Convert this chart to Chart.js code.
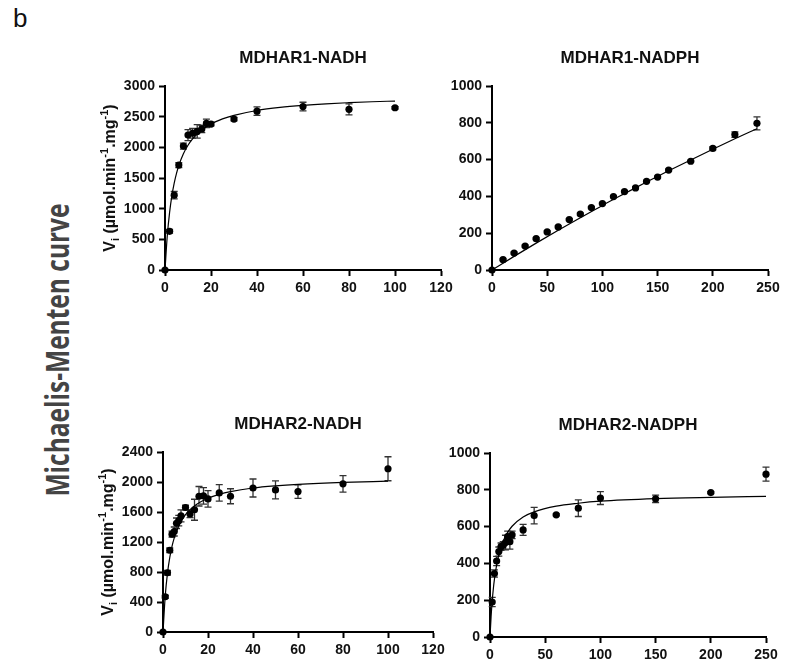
<!DOCTYPE html>
<html>
<head>
<meta charset="utf-8">
<script src="https://cdn.jsdelivr.net/npm/chart.js@4.4.1/dist/chart.umd.min.js"></script>
<style>
  body { margin: 0; background: #fff; }
  #page { position: relative; width: 795px; height: 671px; overflow: hidden; background: #fff; }
  #page canvas { position: absolute; }
  #tag { position: absolute; left: 13px; top: 5px; font: 26px "Liberation Sans", Arial, sans-serif; line-height: 1; color: #111; }
  #side {
    position: absolute; left: -115px; top: 335px; width: 340px; height: 30px;
    line-height: 30px; text-align: center; color: #444;
    font: 700 24.5px "Open Sans", sans-serif;
    transform: rotate(-90deg) scaleY(1.3);
  }
</style>
</head>
<body>
<div id="page">
  <div id="tag">b</div>
  <div id="side">Michaelis-Menten curve</div>
</div>
<script>
// MDHAR1 with NADH
const m1NadhX = [0, 2, 4, 6, 8, 10, 12, 14, 16, 18, 20, 30, 40, 60, 80, 100];
const m1NadhY = [0, 630, 1220, 1710, 2020, 2200, 2230, 2260, 2300, 2390, 2380, 2460, 2590, 2665, 2620, 2645];
const m1NadhErr = [0, 30, 60, 40, 50, 90, 80, 110, 60, 70, 30, 30, 70, 70, 90, 20];
const m1NadhFitX = [0, 1, 2, 3, 4, 5, 6, 8, 10, 12, 15, 20, 25, 30, 40, 50, 60, 70, 80, 90, 100];
const m1NadhFitY = [0, 562, 940, 1212, 1416, 1576, 1704, 1896, 2034, 2137, 2251, 2380, 2463, 2522, 2601, 2651, 2685, 2710, 2728, 2743, 2755];

// MDHAR1 with NADPH
const m1NadphX = [0, 10, 20, 30, 40, 50, 60, 70, 80, 90, 100, 110, 120, 130, 140, 150, 160, 180, 200, 220, 240];
const m1NadphY = [0, 56, 92, 130, 170, 207, 234, 274, 304, 339, 361, 399, 426, 446, 482, 505, 543, 591, 661, 736, 797];
const m1NadphErr = [0, 5, 5, 5, 5, 5, 5, 5, 5, 5, 5, 5, 5, 5, 5, 5, 5, 5, 8, 15, 35];
const m1NadphFitX = [0, 20, 40, 60, 80, 100, 120, 140, 160, 180, 200, 220, 240];
const m1NadphFitY = [0, 74, 146, 216, 284, 351, 415, 478, 539, 598, 656, 713, 768];

// MDHAR2 with NADH
const m2NadhX = [0, 1, 2, 3, 4, 5, 6, 7, 8, 10, 12, 14, 16, 18, 20, 25, 30, 40, 50, 60, 80, 100];
const m2NadhY = [0, 470, 790, 1090, 1305, 1340, 1450, 1485, 1548, 1660, 1575, 1630, 1810, 1815, 1775, 1855, 1810, 1920, 1895, 1873, 1976, 2177];
const m2NadhErr = [0, 20, 30, 30, 40, 60, 70, 70, 80, 30, 50, 140, 130, 110, 110, 110, 100, 120, 120, 90, 110, 160];
const m2NadhFitX = [0, 1, 2, 3, 4, 5, 6, 8, 10, 12, 15, 20, 25, 30, 40, 50, 60, 80, 100];
const m2NadhFitY = [0, 485, 787, 992, 1141, 1254, 1342, 1472, 1564, 1631, 1704, 1784, 1836, 1872, 1920, 1949, 1969, 1995, 2011];

// MDHAR2 with NADPH
const m2NadphX = [0, 2, 4, 6, 8, 10, 12, 14, 16, 18, 20, 30, 40, 60, 80, 100, 150, 200, 250];
const m2NadphY = [0, 190, 345, 413, 464, 491, 498, 513, 545, 518, 555, 582, 660, 664, 700, 755, 751, 785, 885];
const m2NadphErr = [0, 25, 20, 25, 25, 20, 20, 40, 30, 40, 20, 30, 45, 5, 45, 35, 20, 5, 38];
const m2NadphFitX = [0, 1, 2, 3, 4, 6, 8, 10, 12, 15, 20, 30, 40, 60, 80, 100, 150, 200, 250];
const m2NadphFitY = [0, 112, 196, 261, 313, 391, 447, 489, 521, 559, 602, 652, 680, 711, 727, 738, 752, 759, 764];

const FONT = '"Liberation Sans", Arial, sans-serif';

// each panel: title, data, axis ranges and its plot box on the page (left, top, right, bottom)
const panels = [
  { title: 'MDHAR1-NADH', x: m1NadhX, y: m1NadhY, err: m1NadhErr, fx: m1NadhFitX, fy: m1NadhFitY,
    xMax: 120, xStep: 20, yMax: 3000, yStep: 500, yTitle: true, box: [165, 86, 441, 270] },
  { title: 'MDHAR1-NADPH', x: m1NadphX, y: m1NadphY, err: m1NadphErr, fx: m1NadphFitX, fy: m1NadphFitY,
    xMax: 250, xStep: 50, yMax: 1000, yStep: 200, yTitle: false, box: [492, 86, 768, 270] },
  { title: 'MDHAR2-NADH', x: m2NadhX, y: m2NadhY, err: m2NadhErr, fx: m2NadhFitX, fy: m2NadhFitY,
    xMax: 120, xStep: 20, yMax: 2400, yStep: 400, yTitle: true, box: [163, 452, 433, 632] },
  { title: 'MDHAR2-NADPH', x: m2NadphX, y: m2NadphY, err: m2NadphErr, fx: m2NadphFitX, fy: m2NadphFitY,
    xMax: 250, xStep: 50, yMax: 1000, yStep: 200, yTitle: false, box: [490, 453, 766, 637] }
];

const PAD_L = 80, PAD_T = 45, PAD_R = 24, PAD_B = 40;

// vertical error bars with caps, under the markers
const errorBars = {
  id: 'errorBars',
  beforeDatasetsDraw(chart) {
    const ds = chart.data.datasets[1];
    const xs = chart.scales.x, ys = chart.scales.y;
    const ctx = chart.ctx;
    ctx.save();
    ctx.strokeStyle = '#333';
    ctx.lineWidth = 1.3;
    ds.data.forEach((p, i) => {
      const e = ds.errors[i];
      if (!e) return;
      const px = xs.getPixelForValue(p.x);
      const top = ys.getPixelForValue(p.y + e);
      const bot = ys.getPixelForValue(p.y - e);
      ctx.beginPath();
      ctx.moveTo(px, top); ctx.lineTo(px, bot);
      ctx.moveTo(px - 3.5, top); ctx.lineTo(px + 3.5, top);
      ctx.moveTo(px - 3.5, bot); ctx.lineTo(px + 3.5, bot);
      ctx.stroke();
    });
    ctx.restore();
  }
};

// panel title and the y axis title with sub/superscripts
const panelText = {
  id: 'panelText',
  afterDraw(chart, args, opts) {
    const ctx = chart.ctx;
    const area = chart.chartArea;
    ctx.save();
    ctx.fillStyle = '#111';
    ctx.font = 'bold 17px ' + FONT;
    ctx.textAlign = 'center';
    ctx.textBaseline = 'middle';
    ctx.fillText(opts.title, (area.left + area.right) / 2, area.top - 28);

    if (opts.yTitle) {
      const parts = [
        ['V', 16, 0], ['i', 11, 4], [' (µmol.min', 16, 0], ['-1', 11, -7],
        ['.mg', 16, 0], ['-1', 11, -7], [')', 16, 0]
      ];
      let total = 0;
      parts.forEach(p => { ctx.font = 'bold ' + p[1] + 'px ' + FONT; total += ctx.measureText(p[0]).width; });
      ctx.translate(area.left - 50, (area.top + area.bottom) / 2);
      ctx.rotate(-Math.PI / 2);
      ctx.textAlign = 'left';
      ctx.textBaseline = 'alphabetic';
      let pos = -total / 2;
      parts.forEach(p => {
        ctx.font = 'bold ' + p[1] + 'px ' + FONT;
        ctx.fillText(p[0], pos, p[2]);
        pos += ctx.measureText(p[0]).width;
      });
    }
    ctx.restore();
  }
};

function fixWidth(w) {
  return s => { s.width = w; s.paddingLeft = s.paddingRight = s.paddingTop = s.paddingBottom = 0; };
}
function fixHeight(h) {
  return s => { s.height = h; s.paddingLeft = s.paddingRight = s.paddingTop = s.paddingBottom = 0; };
}

const page = document.getElementById('page');

panels.forEach(p => {
  const [l, t, r, b] = p.box;
  const canvas = document.createElement('canvas');
  canvas.width = (r - l) + PAD_L + PAD_R;
  canvas.height = (b - t) + PAD_T + PAD_B;
  canvas.style.left = (l - PAD_L) + 'px';
  canvas.style.top = (t - PAD_T) + 'px';
  page.appendChild(canvas);

  const axis = {
    border: { display: true, color: '#000', width: 2 },
    grid: { display: true, drawOnChartArea: false, drawTicks: true, tickLength: 6, tickWidth: 2, tickColor: '#000' },
    ticks: { color: '#111', font: { family: FONT, size: 14, weight: 'bold' }, callback: v => String(v) }
  };

  new Chart(canvas, {
    type: 'scatter',
    data: {
      datasets: [
        {
          data: p.fx.map((v, i) => ({ x: v, y: p.fy[i] })),
          showLine: true,
          borderColor: '#000',
          borderWidth: 1.2,
          pointRadius: 0,
          cubicInterpolationMode: 'monotone',
          clip: false
        },
        {
          data: p.x.map((v, i) => ({ x: v, y: p.y[i] })),
          errors: p.err,
          showLine: false,
          pointRadius: 3.6,
          pointBackgroundColor: '#000',
          pointBorderColor: '#000',
          pointBorderWidth: 0,
          clip: false
        }
      ]
    },
    options: {
      responsive: false,
      animation: false,
      devicePixelRatio: 1,
      layout: { padding: { left: 0, top: PAD_T, right: PAD_R, bottom: 0 } },
      plugins: {
        legend: { display: false },
        tooltip: { enabled: false },
        panelText: { title: p.title, yTitle: p.yTitle }
      },
      scales: {
        x: Object.assign({}, axis, {
          type: 'linear', min: 0, max: p.xMax,
          ticks: Object.assign({}, axis.ticks, { stepSize: p.xStep, padding: 4, maxRotation: 0 }),
          afterFit: fixHeight(PAD_B)
        }),
        y: Object.assign({}, axis, {
          type: 'linear', min: 0, max: p.yMax,
          ticks: Object.assign({}, axis.ticks, { stepSize: p.yStep, padding: 4 }),
          afterFit: fixWidth(PAD_L)
        })
      }
    },
    plugins: [errorBars, panelText]
  });
});
</script>
</body>
</html>
